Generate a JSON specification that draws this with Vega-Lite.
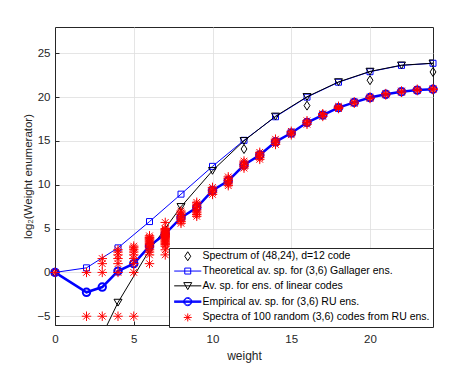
{
  "$schema": "https://vega.github.io/schema/vega-lite/v6.json",
  "width": 378,
  "height": 298,
  "autosize": {"type": "none"},
  "padding": {"left": 55, "top": 27, "right": 30, "bottom": 60},
  "background": "white",
  "config": {
    "font": "Liberation Sans",
    "view": {"stroke": "#262626", "strokeWidth": 1},
    "axis": {
      "grid": true,
      "gridColor": "#dedede",
      "gridWidth": 0.8,
      "domainColor": "#262626",
      "domainWidth": 1,
      "tickColor": "#262626",
      "tickSize": -4,
      "labelFont": "Liberation Sans",
      "labelFontSize": 11.5,
      "labelColor": "#262626",
      "labelFlush": false,
      "titleFont": "Liberation Sans",
      "titleFontSize": 12,
      "titleFontWeight": "normal",
      "titleColor": "#262626"
    },
    "legend": {
      "title": null,
      "orient": "none",
      "legendX": 114,
      "legendY": 221,
      "padding": 3,
      "fillColor": "white",
      "strokeColor": "#262626",
      "labelFont": "Liberation Sans",
      "labelFontSize": 10.5,
      "labelColor": "#000000",
      "labelLimit": 400,
      "rowPadding": 2.8,
      "symbolSize": 60,
      "symbolOffset": 10.5,
      "labelOffset": 9.5,
      "symbolOpacity": 1,
      "symbolStrokeWidth": 1,
      "symbolFillColor": "transparent"
    }
  },
  "datasets": {
    "spec": [
      {"w": 0, "v": 0}, {"w": 12, "v": 14.08}, {"w": 16, "v": 19.03}, {"w": 20, "v": 21.93}, {"w": 24, "v": 22.87}
    ],
    "gal": [
      {"w": 0, "v": 0}, {"w": 2, "v": 0.52}, {"w": 4, "v": 2.8}, {"w": 6, "v": 5.8}, {"w": 8, "v": 8.93},
      {"w": 10, "v": 12.1}, {"w": 12, "v": 15.07}, {"w": 14, "v": 17.76}, {"w": 16, "v": 20.0},
      {"w": 18, "v": 21.7}, {"w": 20, "v": 22.9}, {"w": 22, "v": 23.62}, {"w": 24, "v": 23.86}
    ],
    "lin": [
      {"w": 2, "v": -10.86}, {"w": 4, "v": -3.43}, {"w": 6, "v": 2.55}, {"w": 8, "v": 7.49},
      {"w": 10, "v": 11.61}, {"w": 12, "v": 15.02}, {"w": 14, "v": 17.81}, {"w": 16, "v": 20.04},
      {"w": 18, "v": 21.73}, {"w": 20, "v": 22.93}, {"w": 22, "v": 23.64}, {"w": 24, "v": 23.87}
    ],
    "ru": [
      {"w": 0, "v": 0}, {"w": 2, "v": -2.27}, {"w": 3, "v": -1.67}, {"w": 4, "v": 0.15}, {"w": 5, "v": 1.0},
      {"w": 6, "v": 3.0}, {"w": 7, "v": 4.4}, {"w": 8, "v": 6.25}, {"w": 9, "v": 7.4}, {"w": 10, "v": 9.35},
      {"w": 11, "v": 10.45}, {"w": 12, "v": 12.25}, {"w": 13, "v": 13.4}, {"w": 14, "v": 14.9},
      {"w": 15, "v": 15.9}, {"w": 16, "v": 17.1}, {"w": 17, "v": 17.95}, {"w": 18, "v": 18.8},
      {"w": 19, "v": 19.4}, {"w": 20, "v": 19.95}, {"w": 21, "v": 20.32}, {"w": 22, "v": 20.62},
      {"w": 23, "v": 20.8}, {"w": 24, "v": 20.9}
    ],
    "stars": [
      {"w": 0, "v": 0},
      {"w": 2, "v": -5}, {"w": 2, "v": 0},
      {"w": 3, "v": -5}, {"w": 3, "v": 0}, {"w": 3, "v": 1}, {"w": 3, "v": 1.58},
      {"w": 4, "v": -5}, {"w": 4, "v": 0}, {"w": 4, "v": 1}, {"w": 4, "v": 1.58}, {"w": 4, "v": 2}, {"w": 4, "v": 2.32}, {"w": 4, "v": 2.58},
      {"w": 5, "v": -5}, {"w": 5, "v": 0}, {"w": 5, "v": 1}, {"w": 5, "v": 1.58}, {"w": 5, "v": 2}, {"w": 5, "v": 2.32}, {"w": 5, "v": 2.58}, {"w": 5, "v": 2.81}, {"w": 5, "v": 3},
      {"w": 6, "v": 1}, {"w": 6, "v": 2}, {"w": 6, "v": 2.32}, {"w": 6, "v": 2.58}, {"w": 6, "v": 2.81}, {"w": 6, "v": 3}, {"w": 6, "v": 3.17}, {"w": 6, "v": 3.32}, {"w": 6, "v": 3.46}, {"w": 6, "v": 3.58}, {"w": 6, "v": 3.7}, {"w": 6, "v": 3.81}, {"w": 6, "v": 3.91}, {"w": 6, "v": 4}, {"w": 6, "v": 4.17},
      {"w": 7, "v": 2}, {"w": 7, "v": 2.58}, {"w": 7, "v": 3}, {"w": 7, "v": 3.17}, {"w": 7, "v": 3.32}, {"w": 7, "v": 3.46}, {"w": 7, "v": 3.58}, {"w": 7, "v": 3.7}, {"w": 7, "v": 3.81}, {"w": 7, "v": 3.91}, {"w": 7, "v": 4}, {"w": 7, "v": 4.09}, {"w": 7, "v": 4.17}, {"w": 7, "v": 4.25}, {"w": 7, "v": 4.32}, {"w": 7, "v": 4.46}, {"w": 7, "v": 4.58}, {"w": 7, "v": 4.7}, {"w": 7, "v": 4.81}, {"w": 7, "v": 4.91}, {"w": 7, "v": 5.0}, {"w": 7, "v": 5.7},
      {"w": 8, "v": 5.6}, {"w": 8, "v": 5.8}, {"w": 8, "v": 6.0}, {"w": 8, "v": 6.2}, {"w": 8, "v": 6.4}, {"w": 8, "v": 6.6}, {"w": 8, "v": 6.8}, {"w": 8, "v": 7.0},
      {"w": 9, "v": 6.4}, {"w": 9, "v": 6.6}, {"w": 9, "v": 6.8}, {"w": 9, "v": 7.0}, {"w": 9, "v": 7.2}, {"w": 9, "v": 7.4}, {"w": 9, "v": 7.6}, {"w": 9, "v": 7.8}, {"w": 9, "v": 8.0},
      {"w": 10, "v": 8.9}, {"w": 10, "v": 9.1}, {"w": 10, "v": 9.3}, {"w": 10, "v": 9.5}, {"w": 10, "v": 9.7},
      {"w": 11, "v": 9.9}, {"w": 11, "v": 10.1}, {"w": 11, "v": 10.3}, {"w": 11, "v": 10.5}, {"w": 11, "v": 10.7}, {"w": 11, "v": 10.9},
      {"w": 12, "v": 11.9}, {"w": 12, "v": 12.1}, {"w": 12, "v": 12.3}, {"w": 12, "v": 12.5}, {"w": 12, "v": 12.7},
      {"w": 13, "v": 12.9}, {"w": 13, "v": 13.1}, {"w": 13, "v": 13.3}, {"w": 13, "v": 13.5}, {"w": 13, "v": 13.7},
      {"w": 14, "v": 14.6}, {"w": 14, "v": 14.8}, {"w": 14, "v": 15.0}, {"w": 14, "v": 15.2},
      {"w": 15, "v": 15.7}, {"w": 15, "v": 15.9}, {"w": 15, "v": 16.1},
      {"w": 16, "v": 16.9}, {"w": 16, "v": 17.1}, {"w": 16, "v": 17.3},
      {"w": 17, "v": 17.8}, {"w": 17, "v": 18.0}, {"w": 17, "v": 18.1},
      {"w": 18, "v": 18.7}, {"w": 18, "v": 18.8}, {"w": 18, "v": 18.95},
      {"w": 19, "v": 19.3}, {"w": 19, "v": 19.45},
      {"w": 20, "v": 19.85}, {"w": 20, "v": 20.0},
      {"w": 21, "v": 20.25}, {"w": 21, "v": 20.4},
      {"w": 22, "v": 20.55}, {"w": 22, "v": 20.7},
      {"w": 23, "v": 20.75}, {"w": 23, "v": 20.9},
      {"w": 24, "v": 20.85}, {"w": 24, "v": 20.95}
    ],
    "leg": [
      {"series": "Spectrum of (48,24), d=12 code"},
      {"series": "Theoretical av. sp. for (3,6) Gallager ens."},
      {"series": "Av. sp. for ens. of linear codes"},
      {"series": "Empirical av. sp. for (3,6) RU ens."},
      {"series": "Spectra of 100 random (3,6) codes from RU ens."}
    ]
  },
  "encoding": {
    "x": {
      "field": "w", "type": "quantitative",
      "scale": {"domain": [0, 24], "nice": false, "zero": false},
      "axis": {"values": [0, 5, 10, 15, 20], "title": "weight", "labelPadding": 12, "titlePadding": 6}
    },
    "y": {
      "field": "v", "type": "quantitative",
      "scale": {"domain": [-6, 28], "nice": false, "zero": false},
      "axis": {"values": [-5, 0, 5, 10, 15, 20, 25], "title": "log₂(Weight enumerator)", "labelPadding": 9, "titlePadding": 3, "titleFontSize": 11.5}
    }
  },
  "layer": [
    {
      "data": {"name": "spec"},
      "mark": {"type": "point", "shape": "M0,-1L0.65,0L0,1L-0.65,0Z", "size": 81, "filled": false, "stroke": "#000000", "strokeWidth": 1, "opacity": 1}
    },
    {
      "data": {"name": "gal"},
      "mark": {"type": "line", "stroke": "#0000ff", "strokeWidth": 1}
    },
    {
      "data": {"name": "gal"},
      "mark": {"type": "point", "shape": "square", "size": 36, "filled": false, "stroke": "#0000ff", "strokeWidth": 1, "opacity": 1}
    },
    {
      "data": {"name": "lin"},
      "mark": {"type": "line", "stroke": "#000000", "strokeWidth": 1, "clip": true}
    },
    {
      "data": {"name": "lin"},
      "mark": {"type": "point", "shape": "M-1,-0.8L1,-0.8L0,0.9Z", "size": 64, "filled": false, "stroke": "#000000", "strokeWidth": 1, "opacity": 1, "clip": true}
    },
    {
      "data": {"name": "ru"},
      "mark": {"type": "line", "stroke": "#0000ff", "strokeWidth": 2.5}
    },
    {
      "data": {"name": "ru"},
      "mark": {"type": "point", "shape": "circle", "size": 55, "filled": false, "stroke": "#0000ff", "strokeWidth": 2, "opacity": 1}
    },
    {
      "data": {"name": "stars"},
      "mark": {"type": "point", "shape": "M-1,0L1,0M0,-1L0,1M-0.7,-0.7L0.7,0.7M-0.7,0.7L0.7,-0.7", "size": 90, "filled": false, "stroke": "#ff0000", "strokeWidth": 1, "opacity": 1}
    },
    {
      "data": {"name": "leg"},
      "mark": {"type": "point", "filled": false, "opacity": 0},
      "encoding": {
        "x": {"value": 0},
        "y": {"value": 0},
        "stroke": {
          "field": "series", "type": "nominal",
          "scale": {
            "domain": [
              "Spectrum of (48,24), d=12 code",
              "Theoretical av. sp. for (3,6) Gallager ens.",
              "Av. sp. for ens. of linear codes",
              "Empirical av. sp. for (3,6) RU ens.",
              "Spectra of 100 random (3,6) codes from RU ens."
            ],
            "range": ["#000000", "#0000ff", "#000000", "#0000ff", "#ff0000"]
          },
          "legend": {"title": null}
        },
        "shape": {
          "field": "series", "type": "nominal",
          "scale": {
            "domain": [
              "Spectrum of (48,24), d=12 code",
              "Theoretical av. sp. for (3,6) Gallager ens.",
              "Av. sp. for ens. of linear codes",
              "Empirical av. sp. for (3,6) RU ens.",
              "Spectra of 100 random (3,6) codes from RU ens."
            ],
            "range": [
              "M0,-1.16L0.77,0L0,1.16L-0.77,0Z",
              "M-3.5,0L3.5,0M-0.77,-0.77L0.77,-0.77L0.77,0.77L-0.77,0.77Z",
              "M-3.5,0L3.5,0M-1.03,-0.84L1.03,-0.84L0,0.98Z",
              "M-3.5,0L3.5,0M-3.5,-0.18L3.5,-0.18M-3.5,0.18L3.5,0.18M-1.05,0A1.05,1.05 0 1,0 1.05,0A1.05,1.05 0 1,0 -1.05,0ZM-0.85,0A0.85,0.85 0 1,0 0.85,0A0.85,0.85 0 1,0 -0.85,0Z",
              "M-1.03,0L1.03,0M0,-1.03L0,1.03M-0.73,-0.73L0.73,0.73M-0.73,0.73L0.73,-0.73"
            ]
          },
          "legend": {"title": null}
        }
      }
    }
  ]
}
